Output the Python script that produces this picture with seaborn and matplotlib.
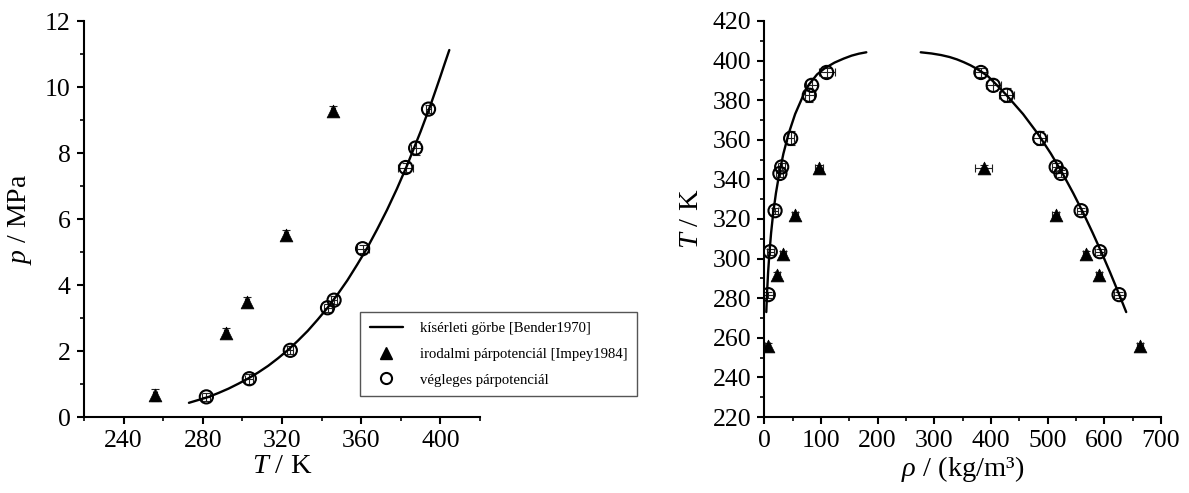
import matplotlib
matplotlib.use("Agg")
import matplotlib.pyplot as plt
from matplotlib.lines import Line2D
from matplotlib.ticker import MultipleLocator
import pandas as pd
import seaborn as sns

# ---------------- data ----------------
# experimental vapour-pressure curve [Bender1970]
T_curve_p = [273.0, 278.0, 283.0, 288.0, 293.0, 298.0, 303.0, 308.0, 313.0, 318.0,
             323.0, 328.0, 333.0, 338.0, 343.0, 348.0, 353.0, 358.0, 363.0, 368.0,
             373.0, 378.0, 383.0, 386.0, 390.0, 395.0, 398.0, 400.0, 402.0, 404.5]
p_curve = [0.43, 0.52, 0.61, 0.73, 0.86, 1.01, 1.17, 1.35, 1.55, 1.78,
           2.03, 2.31, 2.61, 2.95, 3.31, 3.71, 4.14, 4.62, 5.12, 5.68,
           6.27, 6.91, 7.60, 8.05, 8.65, 9.45, 9.97, 10.32, 10.68, 11.12]

# experimental coexistence curve [Bender1970]
T_curve_v = [273.0, 283.0, 293.0, 303.0, 313.0, 323.0, 333.0, 343.0, 353.0, 363.0,
             373.0, 383.0, 388.0, 393.0, 396.0, 399.0, 401.0, 402.5, 403.5, 404.2]
rho_curve_v = [3.5, 4.9, 6.7, 9.1, 12.0, 15.7, 20.5, 26.4, 33.7, 42.8,
               54.4, 69.6, 79.0, 93.0, 106.0, 124.0, 140.0, 154.0, 167.0, 180.0]
T_curve_l = [273.0, 283.0, 293.0, 303.0, 313.0, 323.0, 333.0, 343.0, 353.0, 363.0,
             373.0, 383.0, 388.0, 392.0, 394.4, 396.0, 397.6, 399.2, 400.6, 401.8,
             402.8, 403.6, 404.2]
rho_curve_l = [638.6, 624.6, 610.2, 595.2, 579.4, 562.9, 545.2, 526.3, 505.7, 482.8,
               456.6, 426.0, 409.0, 395.0, 383.0, 374.0, 364.0, 352.0, 340.0, 327.0,
               312.0, 295.0, 276.0]

# literature pair potential [Impey1984]
T_lit = [255.9, 291.7, 302.2, 321.9, 345.9]
T_lit_err = [1.0, 1.0, 1.0, 1.0, 1.0]
p_lit = [0.66, 2.56, 3.48, 5.53, 9.27]
p_lit_err = [0.18, 0.15, 0.15, 0.15, 0.15]
rho_lit_v = [6.0, 23.0, 33.5, 54.0, 97.0]
rho_lit_v_err = [4.0, 4.0, 5.0, 5.0, 7.0]
rho_lit_l = [663.0, 590.3, 567.0, 514.0, 387.5]
rho_lit_l_err = [5.0, 5.0, 5.0, 6.0, 15.0]
T_lit_err_r = [1.5, 1.5, 1.5, 1.5, 1.5]

# final pair potential (this work)
T_sim = [281.8, 303.5, 324.2, 343.0, 346.3, 360.7, 382.5, 387.5, 394.0]
T_sim_err = [2.0, 2.0, 1.5, 2.0, 1.5, 3.0, 3.7, 2.5, 1.5]
p_sim = [0.61, 1.16, 2.02, 3.31, 3.54, 5.10, 7.56, 8.15, 9.33]
p_sim_err = [0.12, 0.15, 0.12, 0.12, 0.12, 0.12, 0.15, 0.20, 0.12]
rho_sim_v = [7.0, 10.5, 19.0, 27.5, 30.7, 46.5, 79.4, 83.6, 110.0]
rho_sim_v_err = [9.0, 6.0, 5.0, 6.0, 6.0, 6.0, 8.0, 10.0, 14.0]
rho_sim_l = [626.0, 592.0, 559.0, 523.5, 515.0, 486.0, 427.5, 404.0, 382.2]
rho_sim_l_err = [9.0, 8.0, 8.0, 9.0, 8.0, 12.0, 13.0, 13.0, 10.0]
T_sim_err_r = [1.5, 1.5, 1.5, 2.0, 2.0, 3.5, 3.5, 3.0, 2.5]

label_curve = "kísérleti görbe [Bender1970]"
label_lit = "irodalmi párpotenciál [Impey1984]"
label_sim = "végleges párpotenciál"

# ---------------- style ----------------
sns.set_style("ticks")
plt.rcParams["font.family"] = ["Liberation Serif", "DejaVu Serif"]
plt.rcParams["mathtext.fontset"] = "custom"
plt.rcParams["mathtext.rm"] = "Liberation Serif"
plt.rcParams["mathtext.it"] = "Liberation Serif:italic"
plt.rcParams["axes.edgecolor"] = "black"
plt.rcParams["axes.linewidth"] = 1.5
plt.rcParams["xtick.color"] = "black"
plt.rcParams["ytick.color"] = "black"
plt.rcParams["text.color"] = "black"
plt.rcParams["axes.labelcolor"] = "black"

fig = plt.figure(figsize=(11.89, 4.93), dpi=100)
axL = fig.add_axes([84 / 1189, 76 / 493, 396 / 1189, 396 / 493])
axR = fig.add_axes([764.3 / 1189, 76 / 493, 396.7 / 1189, 396 / 493])

LW = 1.7
ERR_KW = dict(fmt="none", ecolor="#222222", elinewidth=0.8, capsize=3, capthick=0.8, zorder=2)
TRI_KW = dict(marker="^", s=85, color="black", edgecolor="black", linewidth=0.5, zorder=4)
CIR_KW = dict(marker="o", s=90, facecolors="none", edgecolors="black", linewidth=1.5, zorder=4)

# ---- left: vapour pressure ----
dfc = pd.DataFrame({"T": T_curve_p, "p": p_curve})
sns.lineplot(data=dfc, x="T", y="p", ax=axL, color="black", lw=LW, sort=False,
             estimator=None, zorder=3)
axL.errorbar(T_lit, p_lit, xerr=T_lit_err, yerr=p_lit_err, **ERR_KW)
axL.errorbar(T_sim, p_sim, xerr=T_sim_err, yerr=p_sim_err, **ERR_KW)
sns.scatterplot(x=T_lit, y=p_lit, ax=axL, **TRI_KW)
sns.scatterplot(x=T_sim, y=p_sim, ax=axL, **CIR_KW)

axL.set_xlim(220, 420)
axL.set_ylim(0, 12)
axL.xaxis.set_minor_locator(MultipleLocator(20))
axL.yaxis.set_major_locator(MultipleLocator(2))
axL.yaxis.set_minor_locator(MultipleLocator(1))
axL.set_xticks([240, 280, 320, 360, 400])
axL.set_xlabel("$T$ / K", fontsize=20.5, labelpad=1)
axL.set_ylabel("$p$ / MPa", fontsize=20, labelpad=8)

# ---- right: coexistence densities ----
dfv = pd.DataFrame({"rho": rho_curve_v, "T": T_curve_v})
dfl = pd.DataFrame({"rho": rho_curve_l, "T": T_curve_l})
sns.lineplot(data=dfv, x="rho", y="T", ax=axR, color="black", lw=LW, sort=False,
             estimator=None, zorder=3)
sns.lineplot(data=dfl, x="rho", y="T", ax=axR, color="black", lw=LW, sort=False,
             estimator=None, zorder=3)
axR.errorbar(rho_lit_v, T_lit, xerr=rho_lit_v_err, yerr=T_lit_err_r, **ERR_KW)
axR.errorbar(rho_lit_l, T_lit, xerr=rho_lit_l_err, yerr=T_lit_err_r, **ERR_KW)
axR.errorbar(rho_sim_v, T_sim, xerr=rho_sim_v_err, yerr=T_sim_err_r, **ERR_KW)
axR.errorbar(rho_sim_l, T_sim, xerr=rho_sim_l_err, yerr=T_sim_err_r, **ERR_KW)
sns.scatterplot(x=rho_lit_v + rho_lit_l, y=T_lit + T_lit, ax=axR, **TRI_KW)
sns.scatterplot(x=rho_sim_v + rho_sim_l, y=T_sim + T_sim, ax=axR, **CIR_KW)

axR.set_xlim(0, 700)
axR.set_ylim(220, 420)
axR.xaxis.set_major_locator(MultipleLocator(100))
axR.xaxis.set_minor_locator(MultipleLocator(50))
axR.yaxis.set_major_locator(MultipleLocator(20))
axR.yaxis.set_minor_locator(MultipleLocator(10))
axR.set_xlabel(r"$\rho$ / (kg/m³)", fontsize=20.5, labelpad=1)
axR.set_ylabel("$T$ / K", fontsize=20.5, labelpad=6)

for ax in (axL, axR):
    sns.despine(ax=ax)
    ax.tick_params(which="major", direction="out", length=5, width=1.5, labelsize=18.5, pad=4.5)
    ax.tick_params(which="minor", direction="out", length=3, width=1.2)
    ax.grid(False)
    if ax.get_legend() is not None:
        ax.get_legend().remove()

handles = [
    Line2D([], [], color="black", lw=LW),
    Line2D([], [], color="black", marker="^", ls="none", markersize=8),
    Line2D([], [], color="black", marker="o", ls="none", markersize=8,
           markerfacecolor="none", markeredgewidth=1.5),
]
leg = axL.legend(handles, [label_curve, label_lit, label_sim],
                 loc="upper left", bbox_to_anchor=(360 / 1189, 1 - 312 / 493),
                 bbox_transform=fig.transFigure, fontsize=10.6, frameon=True,
                 fancybox=False, framealpha=1, edgecolor="#555555",
                 borderpad=0.65, labelspacing=0.85, handlelength=2.3,
                 handletextpad=1.1, borderaxespad=0)
leg.get_frame().set_linewidth(1.0)

fig.savefig("out.png", dpi=100)
